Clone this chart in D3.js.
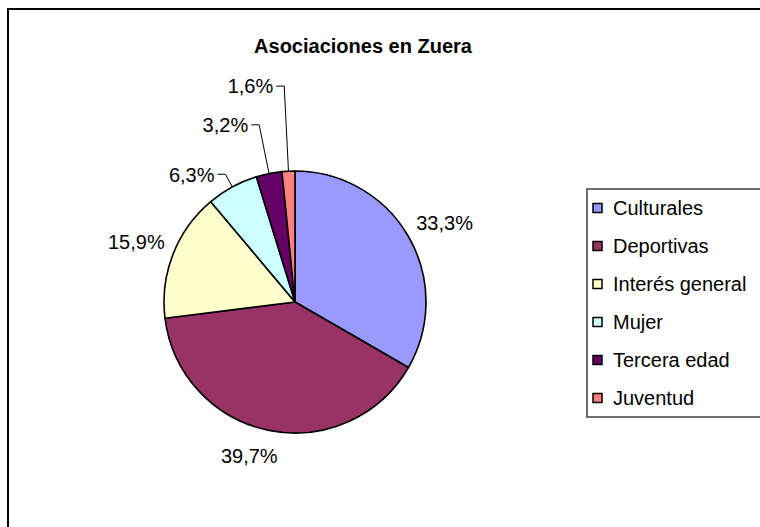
<!DOCTYPE html>
<html><head><meta charset="utf-8">
<script src="https://cdn.jsdelivr.net/npm/d3@7"></script>
<style>body{margin:0;background:#fff}svg{display:block;font-family:"Liberation Sans",Arial,sans-serif}</style>
</head><body><svg id="c" width="760" height="527"></svg>
<script>
const title = "Asociaciones en Zuera";
const categories = ["Culturales","Deportivas","Interés general","Mujer","Tercera edad","Juventud"];
const values = [21,25,10,4,2,1];
const colors = ["#9999FF","#993366","#FFFFCC","#CCFFFF","#660066","#FF8080"];

const svg = d3.select("#c");
const cx = 295, cy = 302, R = 131;
const total = d3.sum(values);
const fmt = v => (v / total * 100).toFixed(1).replace(".", ",") + "%";

// chart frame (extends past the right/bottom of the picture)
svg.append("rect").attr("x", 8).attr("y", 9).attr("width", 800).attr("height", 600)
  .attr("fill", "#fff").attr("stroke", "#000").attr("stroke-width", 2);

svg.append("text").attr("x", 363).attr("y", 53).attr("text-anchor", "middle")
  .attr("font-size", 20).attr("font-weight", "bold").text(title);

const color = d3.scaleOrdinal().domain(categories).range(colors);
const data = categories.map((c, i) => ({cat: c, value: values[i]}));
const pie = d3.pie().sort(null).value(d => d.value);
const arcs = pie(data);
const arc = d3.arc().innerRadius(0).outerRadius(R);

const g = svg.append("g").attr("transform", `translate(${cx},${cy})`);
g.selectAll("path").data(arcs).join("path")
  .attr("d", arc).attr("fill", d => color(d.data.cat))
  .attr("stroke", "#000").attr("stroke-width", 1.6).attr("stroke-linejoin", "round");

const pt = (a, r) => [Math.sin(a) * r, -Math.cos(a) * r];
const clamp = v => Math.max(-1, Math.min(1, v));
let k = 0;
arcs.forEach(d => {
  const mid = (d.startAngle + d.endAngle) / 2;
  const share = d.data.value / total;
  const label = fmt(d.data.value);
  if (share < 0.08) {
    const p0 = pt(mid, R);
    const p1 = pt(mid, R * (1.11 + 0.27 * k));
    const p2 = [p1[0] - 8, p1[1]];
    g.append("polyline").attr("points", [p0, p1, p2].map(p => p.join(",")).join(" "))
      .attr("fill", "none").attr("stroke", "#000").attr("stroke-width", 1);
    g.append("text").attr("x", p2[0] - 3).attr("y", p2[1]).attr("dy", "0.36em")
      .attr("text-anchor", "end").attr("font-size", 20).text(label);
    k++;
  } else {
    const p = pt(mid, R + 9);
    const upper = Math.cos(mid) > 0;
    const t = g.append("text").attr("y", p[1])
      .attr("dy", upper ? "-0.1em" : "1.2em")
      .attr("text-anchor", "middle")
      .attr("font-size", 20).text(label);
    const w = t.node().getComputedTextLength();
    t.attr("x", p[0] + (w / 2) * clamp(Math.sin(mid) * 3.2));
  }
});

// legend
const lg = svg.append("g");
lg.append("rect").attr("x", 587).attr("y", 189).attr("width", 200).attr("height", 228)
  .attr("fill", "#fff").attr("stroke", "#6e6e6e").attr("stroke-width", 2);
const ly = d3.scalePoint().domain(categories).range([208, 398]);
categories.forEach(c => {
  lg.append("rect").attr("x", 593).attr("y", ly(c) - 4.5).attr("width", 9).attr("height", 9)
    .attr("fill", color(c)).attr("stroke", "#000").attr("stroke-width", 1.5);
  lg.append("text").attr("x", 613).attr("y", ly(c)).attr("dy", "0.36em")
    .attr("font-size", 20).text(c);
});
</script></body></html>
